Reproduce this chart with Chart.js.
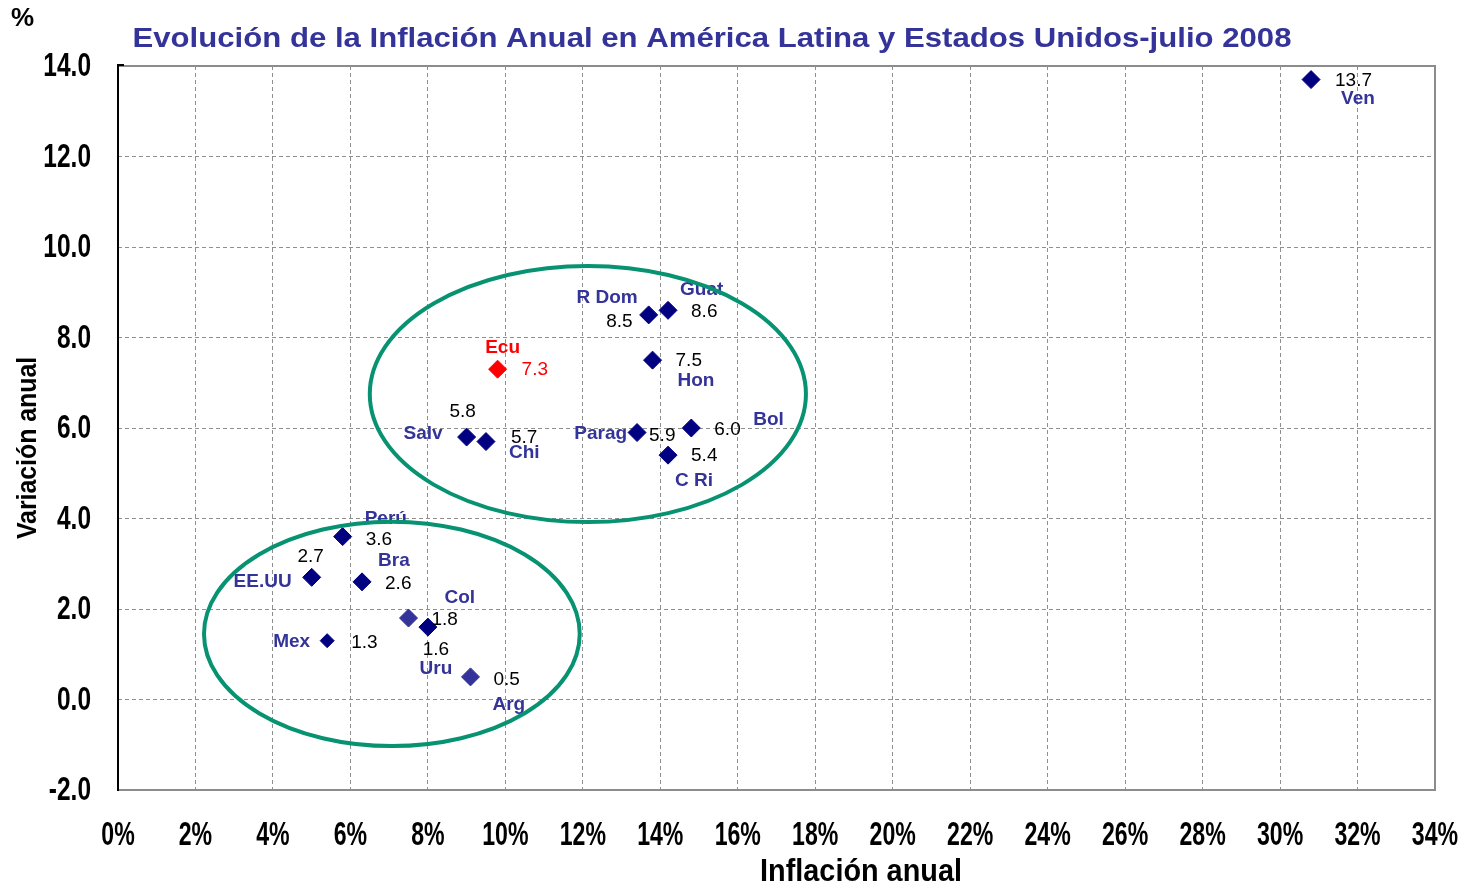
<!DOCTYPE html>
<html>
<head>
<meta charset="utf-8">
<script src="https://cdn.jsdelivr.net/npm/chart.js@4.4.1/dist/chart.umd.min.js"></script>
<style>
  html, body { margin: 0; padding: 0; background: #fff; }
  #wrap { width: 1470px; height: 886px; position: relative; }
</style>
</head>
<body>
<div id="wrap"><canvas id="inflChart" width="1470" height="886"></canvas></div>
<script>
// data
const countries = ["Ven", "Guat", "R Dom", "Hon", "Ecu", "Salv", "Chi", "Parag", "Bol", "C Ri",
                   "Perú", "EE.UU", "Bra", "Mex", "Col", "Uru", "Arg"];
const inflation = [30.8, 14.2, 13.7, 13.8, 9.8, 9.0, 9.5, 13.4, 14.8, 14.2,
                   5.8, 5.0, 6.3, 5.4, 7.5, 8.0, 9.1];
const variation = [13.7, 8.6, 8.5, 7.5, 7.3, 5.8, 5.7, 5.9, 6.0, 5.4,
                   3.6, 2.7, 2.6, 1.3, 1.8, 1.6, 0.5];
const xTicks = [0, 2, 4, 6, 8, 10, 12, 14, 16, 18, 20, 22, 24, 26, 28, 30, 32, 34];
const yTicks = [-2, 0, 2, 4, 6, 8, 10, 12, 14];

// the two groups circled on the chart: centre x, centre y, half-width, half-height
const groupHigh = [12.13, 6.75, 5.63, 2.83];
const groupLow = [7.07, 1.45, 4.85, 2.48];

const NAVY = "#000080";
const LABEL_BLUE = "#333399";
const SANS = '"Liberation Sans", Arial, sans-serif';

// label layout: [value dx, value dy, value align, name dx, name dy, name align]
const labelPos = {
    "Ven":   [24, 1, "left", 30, 19, "left"],
    "Guat":  [23, 1, "left", 12, -21, "left"],
    "R Dom": [-16, 7, "right", -11, -17, "right"],
    "Hon":   [23, 1, "left", 25, 21, "left"],
    "Ecu":   [24, 1, "left", 5, -21, "center"],
    "Salv":  [-4, -25, "center", -24, -3, "right"],
    "Chi":   [25, -4, "left", 23, 11, "left"],
    "Parag": [12, 3, "left", -10, 1, "right"],
    "Bol":   [23, 2, "left", 62, -8, "left"],
    "C Ri":  [23, 1, "left", 7, 26, "left"],
    "Perú":  [23, 3, "left", 22, -18, "left"],
    "EE.UU": [-1, -21, "center", -20, 4, "right"],
    "Bra":   [23, 2, "left", 16, -21, "left"],
    "Mex":   [24, 2, "left", -17, 1, "right"],
    "Col":   [23, 2, "left", 36, -20, "left"],
    "Uru":   [8, 23, "center", 8, 42, "center"],
    "Arg":   [23, 3, "left", 22, 28, "left"]
};

const points = countries.map((c, i) => ({ x: inflation[i], y: variation[i] }));

function pointColor(ctx) {
    const name = countries[ctx.dataIndex];
    if (name === "Ecu") return "#ff0000";
    if (name === "Col" || name === "Arg") return "#333399";
    return NAVY;
}

// draws text squeezed or stretched horizontally (the original uses a narrow bold face)
function squeezedText(ctx, text, x, y, sx, align) {
    ctx.save();
    ctx.translate(x, y);
    ctx.scale(sx, 1);
    ctx.textAlign = align;
    ctx.fillText(text, 0, 0);
    ctx.restore();
}

const framePlugin = {
    id: "frame",
    beforeDatasetsDraw(chart) {
        const { ctx, chartArea: a } = chart;
        ctx.save();
        ctx.strokeStyle = "#8c8c8c";
        ctx.lineWidth = 2;
        ctx.beginPath();
        ctx.moveTo(a.left, a.top);
        ctx.lineTo(a.right, a.top);
        ctx.lineTo(a.right, a.bottom);
        ctx.lineTo(a.left, a.bottom);
        ctx.stroke();
        ctx.strokeStyle = "#000";
        ctx.beginPath();
        ctx.moveTo(a.left, a.bottom + 1);
        ctx.lineTo(a.left, a.top - 1);
        ctx.lineTo(a.left + 6, a.top - 1);
        ctx.stroke();
        ctx.restore();
    },
    afterDraw(chart) {
        const { ctx, scales: { x, y } } = chart;
        ctx.save();
        ctx.textBaseline = "middle";

        // title, stretched to the width it has in the original
        const title = "Evolución de la Inflación Anual en América Latina y Estados Unidos-julio 2008";
        ctx.fillStyle = LABEL_BLUE;
        ctx.font = "bold 28px " + SANS;
        const tw = ctx.measureText(title).width;
        squeezedText(ctx, title, 712, 39, 1159 / tw, "center");

        ctx.fillStyle = "#000";
        ctx.font = "bold 26px " + SANS;
        ctx.textAlign = "left";
        ctx.fillText("%", 11, 19);

        // tick labels
        ctx.font = "bold 34px " + SANS;
        xTicks.forEach(v => {
            squeezedText(ctx, v + "%", x.getPixelForValue(v), 836, 0.68, "center");
        });
        yTicks.forEach(v => {
            squeezedText(ctx, v.toFixed(1), 91, y.getPixelForValue(v) + 1, 0.72, "right");
        });

        // axis titles
        ctx.font = "bold 31px " + SANS;
        squeezedText(ctx, "Inflación anual", 861, 872, 0.93, "center");
        ctx.save();
        ctx.translate(29, 448);
        ctx.rotate(-Math.PI / 2);
        ctx.font = "bold 27px " + SANS;
        squeezedText(ctx, "Variación anual", 0, 0, 0.92, "center");
        ctx.restore();

        ctx.restore();
    }
};

const labelPlugin = {
    id: "pointLabels",
    afterDatasetsDraw(chart) {
        const ctx = chart.ctx;
        const meta = chart.getDatasetMeta(0);
        ctx.save();
        ctx.textBaseline = "middle";
        meta.data.forEach((el, i) => {
            const name = countries[i];
            const p = labelPos[name];
            const red = name === "Ecu";
            ctx.font = "19px " + SANS;
            ctx.fillStyle = red ? "#ff0000" : "#000";
            ctx.textAlign = p[2];
            ctx.fillText(variation[i].toFixed(1), el.x + p[0], el.y + p[1]);
            ctx.font = "bold 19px " + SANS;
            ctx.fillStyle = red ? "#ff0000" : LABEL_BLUE;
            ctx.textAlign = p[5];
            ctx.fillText(name, el.x + p[3], el.y + p[4]);
        });
        ctx.restore();
    }
};

// the circles sit on top of the labels, as in the original
const ellipsePlugin = {
    id: "ellipses",
    afterDatasetsDraw(chart) {
        const { ctx, scales: { x, y } } = chart;
        ctx.save();
        ctx.strokeStyle = "#079272";
        ctx.lineWidth = 4;
        [groupHigh, groupLow].forEach(g => {
            const cx = x.getPixelForValue(g[0]);
            const cy = y.getPixelForValue(g[1]);
            const rx = Math.abs(x.getPixelForValue(g[0] + g[2]) - cx);
            const ry = Math.abs(y.getPixelForValue(g[1] + g[3]) - cy);
            ctx.beginPath();
            ctx.ellipse(cx, cy, rx, ry, 0, 0, Math.PI * 2);
            ctx.stroke();
        });
        ctx.restore();
    }
};

const ctx = document.getElementById("inflChart").getContext("2d");

new Chart(ctx, {
    type: "scatter",
    data: {
        datasets: [{
            label: "Inflación",
            data: points,
            pointStyle: "rectRot",
            pointRadius: c => countries[c.dataIndex] === "Mex" ? 7 : 9,
            pointHoverRadius: 9,
            pointBackgroundColor: pointColor,
            pointBorderColor: pointColor,
            pointBorderWidth: 1
        }]
    },
    options: {
        responsive: false,
        animation: false,
        layout: { padding: { top: 66, right: 35, left: 0, bottom: 0 } },
        plugins: {
            legend: { display: false },
            tooltip: { enabled: false }
        },
        scales: {
            x: {
                type: "linear",
                min: 0,
                max: 34,
                afterBuildTicks: s => { s.ticks = xTicks.map(v => ({ value: v })); },
                afterFit: s => { s.height = 96; },
                grid: { color: "#8f8f8f", lineWidth: 1, drawTicks: false },
                border: { display: false, dash: [4, 3] },
                ticks: { display: false }
            },
            y: {
                type: "linear",
                min: -2,
                max: 14,
                afterBuildTicks: s => { s.ticks = yTicks.map(v => ({ value: v })); },
                afterFit: s => { s.width = 118; },
                grid: { color: "#8f8f8f", lineWidth: 1, drawTicks: false },
                border: { display: false, dash: [4, 3] },
                ticks: { display: false }
            }
        }
    },
    plugins: [framePlugin, labelPlugin, ellipsePlugin]
});
</script>
</body>
</html>
